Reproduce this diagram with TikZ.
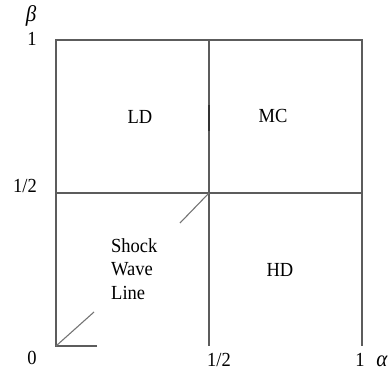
\documentclass[tikz,border=0pt]{standalone}
\usepackage{fontspec}
\setmainfont{Liberation Serif}
\usetikzlibrary{positioning}
\definecolor{axisgray}{HTML}{5C5C5C}

\begin{document}
\begin{tikzpicture}[x=1pt, y=-1pt, font=\fontsize{18.5}{21.5}\selectfont,
            phase/.style={draw=axisgray, line width=1.3pt},
            shock/.style={draw=axisgray!85, line width=1.1pt},
            lbl/.style={inner sep=0pt, yscale=1.08},
            greek/.style={lbl, font=\fontsize{21}{24}\selectfont\itshape}]
            \useasboundingbox (0,0) rectangle (391,374);
            % corners of the phase square
            \coordinate (o) at (56,346);
            \coordinate (tl) at (56,40);
            \coordinate (tm) at (209,40);
            \coordinate (tr) at (362,40);
            \coordinate (ml) at (56,193);
            \coordinate (c) at (209,193);
            \coordinate (mr) at (362,193);
            \coordinate (bm) at (209,346);
            \coordinate (br) at (362,346);
            \coordinate (bs) at (97,346);
            \draw[phase] (bs)--(o)--(tl)--(tr)--(br) (tm)--(bm) (ml)--(mr);
            \draw[line width=1.6pt, black!80] (209,105)--(209,131);
            % shock wave line
            \coordinate (s1) at (94,312);
            \coordinate (s2) at (180,223);
            \draw[shock] (o)--(s1) (s2)--(c);
            % tick labels
            \node[greek] (beta) at (31,16) {β};
            \node[lbl] (one) at (32,39) {1};
            \node[lbl] (half) at (25,186) {1/2};
            \node[lbl] (zero) at (32,358) {0};
            \node[lbl] (halfa) at (219,360) {1/2};
            \node[lbl] (onea) at (360,360) {1};
            \node[greek] (alpha) at (382,361) {α};
            % phases
            \node[lbl] (ld) at (140,117) {LD};
            \node[lbl] (mc) at (273,116) {MC};
            \node[lbl] (hd) at (280,270) {HD};
            \node[lbl, align=left, anchor=west] (swl) at (111,269) {Shock\\Wave\\Line};
        \end{tikzpicture}
\end{document}
